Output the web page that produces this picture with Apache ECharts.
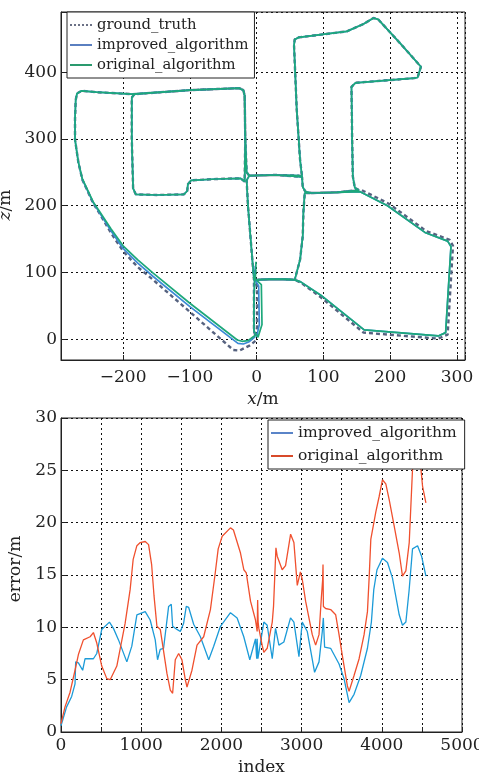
<!DOCTYPE html>
<html>
<head>
<meta charset="utf-8">
<script src="https://cdn.jsdelivr.net/npm/echarts@6/dist/echarts.min.js"></script>
<style>
  html, body { margin: 0; padding: 0; background: #fff; }
  #traj { position: absolute; left: 0; top: 0; width: 479px; height: 410px; }
  #err { position: absolute; left: 0; top: 410px; width: 479px; height: 366px; }
</style>
</head>
<body>
<div id="traj"></div>
<div id="err"></div>
<script>
// ---- trajectory plot (x/m, z/m) ----
// little loop near the origin, one per series
var startTruth = [[-2, 104], [-3, 89], [1, 78], [1, 20], [-1, 3], [-4, 12], [-4, 60], [-4, 89]];
var startImproved = [[-2, 110], [-3, 90], [3, 80], [4, 22], [0, 4], [-4, 12], [-4, 60], [-3, 89]];
var startOriginal = [[-1, 116], [-2, 90], [7, 82], [8, 22], [2, 3], [-4, 12], [-4, 60], [-3, 89]];

// road east to the lower right block
var roadEast = [[20, 90], [45, 90], [57, 89]];

// lower right block
var blockTruth = [[66, 85], [96, 63], [160, 10], [272, 1], [286, 7], [294, 140], [289, 149], [254, 162], [198, 203], [156, 224]];
var blockEst = [[66, 86], [96, 66], [161, 14], [272, 5], [283, 10], [291, 139], [286, 147], [252, 160], [196, 200], [155, 221]];

// the rest of the streets, same for all three
var middleRoute = [
  [120, 220], [82, 219], [72, 219],
  [70, 190], [69, 154], [65, 119], [57, 89],
  [30, 90], [-4, 89],
  [-9, 150], [-13, 200], [-15, 238],
  [-11, 245], [30, 246], [63, 245], [68, 243],
  [65, 269], [60, 344], [56, 440], [57, 449], [63, 452],
  [135, 461], [160, 472], [175, 481], [182, 479], [215, 443], [246, 408], [241, 392], [236, 391],
  [148, 384], [142, 378], [143, 300], [144, 244], [147, 227], [153, 223],
  [120, 220], [82, 219], [73, 221], [69, 228], [68, 243],
  [30, 246], [-11, 245], [-15, 250],
  [-17, 300], [-18, 365], [-20, 373], [-26, 376],
  [-100, 373], [-183, 367], [-187, 362],
  [-187, 300], [-185, 226], [-181, 217], [-150, 216], [-109, 217], [-104, 222], [-103, 232], [-98, 238],
  [-60, 240], [-24, 241], [-18, 236],
  [-17, 300], [-18, 365], [-20, 373], [-26, 376],
  [-100, 373], [-187, 367], [-240, 370], [-262, 372], [-269, 368], [-271, 358]
];

// big curve back to the origin
var curveTruth = [[-272, 330], [-272, 299], [-267, 265], [-261, 239], [-245, 204], [-235, 188], [-218, 159], [-200, 132], [-178, 108], [-155, 89], [-100, 41], [-35, -16], [-26, -17], [-10, -9], [0, -1]];
var curveImproved = [[-272, 330], [-272, 299], [-267, 265], [-261, 239], [-245, 205], [-235, 189], [-218, 162], [-200, 136], [-178, 114], [-155, 94], [-100, 49], [-28, -6], [-20, -7], [-12, -4], [-2, 4]];
var curveOriginal = [[-272, 330], [-272, 299], [-267, 265], [-261, 240], [-245, 206], [-235, 191], [-218, 165], [-200, 140], [-178, 119], [-155, 99], [-100, 54], [-29, -1], [-22, -3], [-13, -2], [-2, 6]];

// ---- error plot (index, error/m) ----
var improvedError = [
  [0, 0.6], [70, 2.4], [133, 3.4], [175, 4.6], [183, 6.7], [217, 6.6], [270, 5.9], [300, 7.0], [404, 7.0], [446, 7.5],
  [508, 9.8], [604, 10.5], [654, 9.9], [717, 8.8], [821, 6.7], [883, 8.2], [946, 11.2], [1050, 11.5], [1112, 10.7],
  [1175, 8.8], [1204, 6.9], [1237, 7.9], [1279, 8.0], [1342, 12.0], [1375, 12.2], [1392, 10.1], [1446, 9.8],
  [1488, 9.6], [1529, 10.4], [1562, 12.0], [1592, 11.9], [1654, 10.3], [1738, 9.1], [1842, 6.9], [1904, 8.2],
  [1988, 10.1], [2113, 11.4], [2196, 10.9], [2279, 9.1], [2354, 6.9], [2425, 8.9], [2440, 7.0], [2446, 8.9],
  [2455, 7.0], [2529, 10.5], [2571, 10.2], [2634, 7.0], [2675, 9.9], [2717, 8.3], [2779, 8.6], [2862, 10.9],
  [2904, 10.5], [2967, 7.2], [3008, 10.5], [3071, 9.6], [3162, 5.7], [3217, 6.7], [3258, 9.6], [3271, 10.9],
  [3287, 8.1], [3362, 8.0], [3467, 6.5], [3529, 5.1], [3592, 2.8], [3654, 3.6], [3737, 5.4], [3821, 8.0],
  [3870, 10.5], [3900, 13.6], [3940, 15.5], [4008, 16.6], [4071, 16.2], [4133, 14.7], [4217, 11.2], [4258, 10.2],
  [4300, 10.5], [4340, 13.5], [4383, 17.5], [4446, 17.8], [4467, 17.9], [4496, 16.8], [4550, 14.9]
];
var originalError = [
  [0, 0.8], [50, 2.4], [113, 3.8], [175, 5.9], [217, 7.4], [279, 8.8], [363, 9.1], [404, 9.5], [446, 8.5],
  [508, 6.3], [571, 5.1], [613, 5.0], [696, 6.3], [800, 10.4], [862, 13.6], [900, 16.5], [946, 17.8], [988, 18.1],
  [1050, 18.2], [1092, 17.9], [1130, 16.0], [1160, 13.0], [1196, 10.1], [1238, 9.8], [1258, 8.8], [1321, 5.6],
  [1363, 4.0], [1392, 3.7], [1425, 6.9], [1467, 7.5], [1508, 6.9], [1550, 5.0], [1571, 4.3], [1633, 5.9],
  [1696, 8.3], [1779, 9.1], [1863, 11.7], [1920, 15.0], [1960, 17.5], [2010, 18.7], [2113, 19.5], [2150, 19.3],
  [2238, 17.1], [2280, 15.5], [2310, 15.2], [2363, 12.5], [2425, 10.7], [2446, 9.6], [2452, 12.6], [2458, 10.5],
  [2467, 9.9], [2508, 8.3], [2529, 7.6], [2571, 8.0], [2634, 10.5], [2650, 12.0], [2680, 17.6], [2696, 16.8],
  [2758, 15.5], [2800, 15.9], [2863, 18.9], [2904, 18.1], [2946, 14.0], [2985, 15.3], [3010, 14.5], [3050, 12.5],
  [3133, 9.3], [3175, 8.3], [3217, 9.3], [3246, 12.8], [3262, 14.5], [3267, 16.0], [3272, 12.0], [3300, 11.8],
  [3362, 11.7], [3425, 11.2], [3467, 9.3], [3508, 7.3], [3571, 4.4], [3592, 3.9], [3654, 5.4], [3717, 7.0],
  [3779, 9.3], [3821, 11.5], [3842, 14.7], [3863, 18.4], [3925, 21.0], [3967, 22.5], [4008, 24.1], [4050, 23.7],
  [4092, 22.2], [4154, 19.7], [4217, 17.1], [4258, 14.9], [4300, 15.4], [4342, 18.1], [4383, 25.1], [4420, 27.0],
  [4460, 27.0], [4488, 25.1], [4508, 23.5], [4550, 21.9]
];

var FONT = 'DejaVu Serif';
var INK = '#222';
// legend icons: short solid bar, or a dotted one for the ground truth
var ICON_LINE = 'rect';
var ICON_DOTS = 'path://M0,0h2v2h-2z M4,0h2v2h-2z M8,0h2v2h-2z M12,0h2v2h-2z M16,0h2v2h-2z M20,0h2v2h-2z';

// 负号用长的
function tickFmt(step) {
  return function (v) {
    if (Math.abs(v % step) > 1e-6) return '';
    return String(v).replace('-', '\u2212');
  };
}

function axisCommon(step) {
  return {
    type: 'value',
    axisLine: { show: true, onZero: false, lineStyle: { color: INK, width: 1 } },
    axisTick: { show: true, inside: true, length: 5, lineStyle: { color: INK } },
    axisLabel: { color: INK, fontFamily: FONT, fontSize: 17, formatter: tickFmt(step) },
    splitLine: { show: true, lineStyle: { color: '#111', type: [2, 3], width: 1 } },
    nameTextStyle: { color: INK, fontFamily: FONT, fontSize: 17, rich: { i: { fontStyle: 'italic', fontFamily: FONT, fontSize: 17, color: INK } } }
  };
}

var legendBase = {
  orient: 'vertical',
  backgroundColor: '#fff',
  borderColor: INK,
  borderWidth: 1,
  borderRadius: 0,
  itemWidth: 22,
  itemHeight: 2
};

var trajChart = echarts.init(document.getElementById('traj'));
var xTraj = axisCommon(100);
xTraj.min = -293; xTraj.max = 312; xTraj.splitNumber = 6;
xTraj.axisLabel.margin = 9;
xTraj.name = '{i|x}/m'; xTraj.nameLocation = 'middle'; xTraj.nameGap = 26;
var yTraj = axisCommon(100);
yTraj.min = -31; yTraj.max = 490; yTraj.splitNumber = 5;
yTraj.axisLabel.margin = 4;
yTraj.name = '{i|z}/m'; yTraj.nameLocation = 'middle'; yTraj.nameGap = 24; yTraj.nameRotate = 90;
yTraj.nameTextStyle.padding = [0, 38, 0, 0];

trajChart.setOption({
  animation: false,
  textStyle: { fontFamily: FONT },
  grid: {
    left: 61, top: 12, width: 404, height: 348, show: true, borderColor: INK, borderWidth: 1,
    containLabel: false, outerBoundsMode: 'none'
  },
  legend: Object.assign({}, legendBase, {
    left: 67, top: 12, itemGap: 2, padding: [4, 6, 4, 3],
    textStyle: { fontFamily: FONT, fontSize: 14.8, color: INK, lineHeight: 18 },
    data: [
      { name: 'ground_truth', icon: ICON_DOTS },
      { name: 'improved_algorithm', icon: ICON_LINE },
      { name: 'original_algorithm', icon: ICON_LINE }
    ]
  }),
  xAxis: xTraj,
  yAxis: yTraj,
  series: [
    {
      name: 'ground_truth', type: 'line', symbol: 'none',
      data: startTruth.concat(roadEast, blockTruth, middleRoute, curveTruth),
      lineStyle: { color: '#56627f', width: 2.4, type: [4, 3] },
      itemStyle: { color: '#6b7186' }
    },
    {
      name: 'improved_algorithm', type: 'line', symbol: 'none',
      data: startImproved.concat(roadEast, blockEst, middleRoute, curveImproved),
      lineStyle: { color: '#3b8ad6', width: 1.7 },
      itemStyle: { color: '#5a7fc0' }
    },
    {
      name: 'original_algorithm', type: 'line', symbol: 'none',
      data: startOriginal.concat(roadEast, blockEst, middleRoute, curveOriginal),
      lineStyle: { color: '#1da87a', width: 1.7 },
      itemStyle: { color: '#2a9a6e' }
    }
  ]
});

var errChart = echarts.init(document.getElementById('err'));
var xErr = axisCommon(1000);
xErr.min = 0; xErr.max = 5000; xErr.interval = 500;
xErr.axisLabel.margin = 5;
xErr.name = 'index'; xErr.nameLocation = 'middle'; xErr.nameGap = 25;
var yErr = axisCommon(5);
yErr.min = 0; yErr.max = 30; yErr.interval = 5;
yErr.axisLabel.margin = 4;
yErr.name = 'error/m'; yErr.nameLocation = 'middle'; yErr.nameGap = 24; yErr.nameRotate = 90;
yErr.nameTextStyle.padding = [0, 0, 0, 12];

errChart.setOption({
  animation: false,
  textStyle: { fontFamily: FONT },
  grid: {
    left: 61, top: 8, width: 401, height: 314, show: true, borderColor: INK, borderWidth: 1,
    containLabel: false, outerBoundsMode: 'none'
  },
  legend: Object.assign({}, legendBase, {
    left: 268, top: 10, itemGap: 5, padding: [4, 8, 4, 3],
    textStyle: { fontFamily: FONT, fontSize: 15.5, color: INK, lineHeight: 18 },
    data: [
      { name: 'improved_algorithm', icon: ICON_LINE },
      { name: 'original_algorithm', icon: ICON_LINE }
    ]
  }),
  xAxis: xErr,
  yAxis: yErr,
  series: [
    {
      name: 'improved_algorithm', type: 'line', symbol: 'none',
      data: improvedError,
      lineStyle: { color: '#1c9bd8', width: 1.3 },
      itemStyle: { color: '#5a84c8' }
    },
    {
      name: 'original_algorithm', type: 'line', symbol: 'none',
      data: originalError,
      lineStyle: { color: '#f0502e', width: 1.3 },
      itemStyle: { color: '#d84a2a' }
    }
  ]
});
</script>
</body>
</html>
